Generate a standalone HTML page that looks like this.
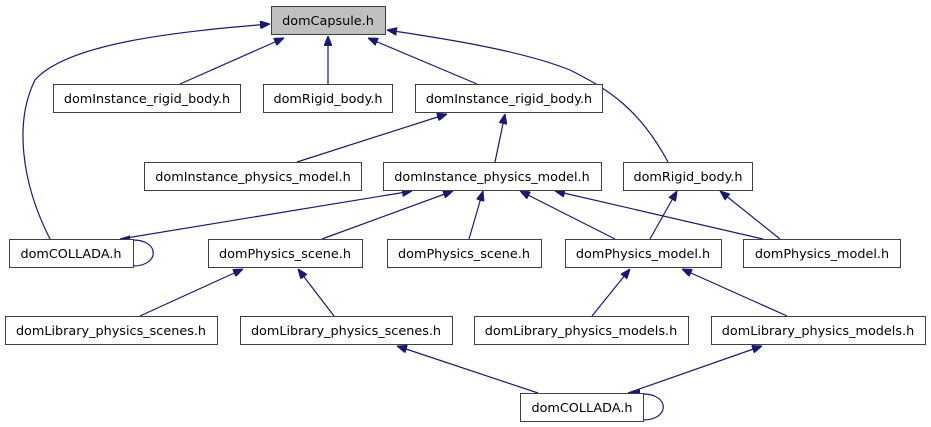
<!DOCTYPE html>
<html><head><meta charset="utf-8"><style>
html,body{margin:0;padding:0;background:#fff;}
svg{display:block;}
text{font-family:"DejaVu Sans","Liberation Sans",sans-serif;font-size:12.8px;fill:#000;}
</style></head><body>
<svg width="931" height="427" viewBox="0 0 931 427" xmlns="http://www.w3.org/2000/svg">
<defs>
<marker id="a" markerWidth="10" markerHeight="8" refX="10" refY="4" orient="auto" markerUnits="userSpaceOnUse">
<path d="M0,0 L10,4 L0,8 Z" fill="#191970" stroke="#191970"/>
</marker>
</defs>
<g fill="none" stroke="#191970" stroke-width="1.2" marker-end="url(#a)">
<path d="M50,239 C20,180 15,120 35,80 C70,40 200,30 270,24"/>
<path d="M180,84 L284,38"/>
<path d="M328,84 L328,36"/>
<path d="M477,84 L368,38"/>
<path d="M668,162 C640,110 610,90 570,70 C520,50 440,38 387,30"/>
<path d="M297,162 L447,114"/>
<path d="M495,162 L505,114"/>
<path d="M120,239 L412,191"/>
<path d="M322,239 L453,191"/>
<path d="M469,239 L483,191"/>
<path d="M615,239 L520,191"/>
<path d="M763,239 L555,191"/>
<path d="M650,239 L677,191"/>
<path d="M780,239 L720,191"/>
<path d="M140,316 L243,269"/>
<path d="M334,316 L298,269"/>
<path d="M592,316 L630,269"/>
<path d="M787,316 L682,269"/>
<path d="M538,393 L397,346"/>
<path d="M628,393 L762,346"/>
<path d="M133,240 C160,240 160,266 133,266" marker-end="none"/>
<path d="M643,394 C670,394 670,420 643,420" marker-end="none"/>
<path d="M133,240 L120,239"/>
<path d="M643,394 L630,393"/>
</g>
<g stroke="#404040" stroke-width="1" fill="#fff">
<rect x="271.5" y="6.5" width="114" height="28" fill="#bfbfbf"/>
<rect x="53.5" y="84.5" width="187" height="28"/>
<rect x="263.5" y="84.5" width="129" height="28"/>
<rect x="415.5" y="84.5" width="187" height="28"/>
<rect x="144.5" y="162.5" width="217" height="28"/>
<rect x="383.5" y="162.5" width="218" height="28"/>
<rect x="623.5" y="162.5" width="129" height="28"/>
<rect x="9.5" y="239.5" width="124" height="28"/>
<rect x="208.5" y="239.5" width="154" height="28"/>
<rect x="387.5" y="239.5" width="154" height="28"/>
<rect x="565.5" y="239.5" width="156" height="28"/>
<rect x="743.5" y="239.5" width="157" height="28"/>
<rect x="5.5" y="316.5" width="212" height="28"/>
<rect x="240.5" y="316.5" width="212" height="28"/>
<rect x="474.5" y="316.5" width="214" height="28"/>
<rect x="711.5" y="316.5" width="214" height="28"/>
<rect x="520.5" y="393.5" width="123" height="28"/>
</g>
<g text-anchor="middle">
<text x="328" y="25">domCapsule.h</text>
<text x="147" y="103">domInstance_rigid_body.h</text>
<text x="328" y="103">domRigid_body.h</text>
<text x="509" y="103">domInstance_rigid_body.h</text>
<text x="253" y="181">domInstance_physics_model.h</text>
<text x="492" y="181">domInstance_physics_model.h</text>
<text x="688" y="181">domRigid_body.h</text>
<text x="71" y="258">domCOLLADA.h</text>
<text x="285" y="258">domPhysics_scene.h</text>
<text x="464" y="258">domPhysics_scene.h</text>
<text x="643" y="258">domPhysics_model.h</text>
<text x="822" y="258">domPhysics_model.h</text>
<text x="111" y="335">domLibrary_physics_scenes.h</text>
<text x="346" y="335">domLibrary_physics_scenes.h</text>
<text x="581" y="335">domLibrary_physics_models.h</text>
<text x="818" y="335">domLibrary_physics_models.h</text>
<text x="582" y="412">domCOLLADA.h</text>
</g>
</svg>
</body></html>
